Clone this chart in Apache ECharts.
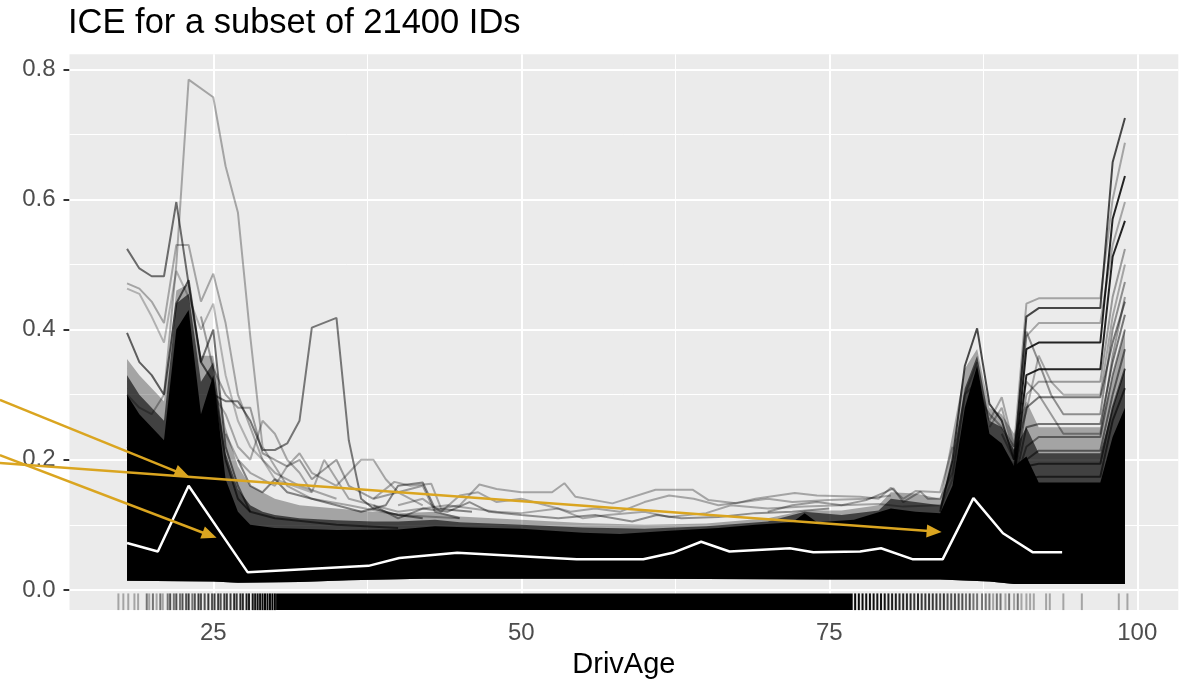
<!DOCTYPE html>
<html><head><meta charset="utf-8">
<script src="https://cdn.jsdelivr.net/npm/echarts/dist/echarts.min.js"></script>
<style>html,body{margin:0;padding:0;background:#fff}#c{width:1182px;height:684px}</style>
</head><body><div id="c"></div>
<script>
// ---------- data ----------
const xTicks = [25, 50, 75, 100];
const xMinor = [37.5, 62.5, 87.5];
const yTicks = [0, 0.2, 0.4, 0.6, 0.8];
const yMinor = [0.1, 0.3, 0.5, 0.7];
const xRange = [13.33, 103.33];
const yRange = [-0.031, 0.823];

// dense band of the ICE curves (upper/lower envelopes)
const bandCoreUpper = [[18,0.30],[19,0.27],[20,0.25],[21,0.23],[22,0.40],[23,0.43],[24,0.27],[25,0.33],[26,0.17],[27,0.12],[28,0.10],[30,0.095],[35,0.092],[40,0.093],[43,0.098],[46,0.096],[50,0.094],[55,0.088],[58,0.086],[62,0.091],[66,0.095],[69,0.10],[72,0.104],[73,0.118],[74,0.104],[77,0.108],[80,0.125],[82,0.12],[84,0.118],[85,0.16],[86,0.28],[87,0.345],[88,0.24],[89,0.225],[90,0.19],[91,0.205],[92,0.165],[97,0.165],[98,0.235],[99,0.28]];
const bandDenseUpper = [[18,0.33],[19,0.30],[20,0.28],[21,0.26],[22,0.44],[23,0.455],[24,0.32],[25,0.35],[26,0.21],[27,0.155],[28,0.13],[29,0.12],[30,0.115],[32,0.11],[35,0.107],[38,0.105],[40,0.105],[43,0.108],[45,0.104],[50,0.10],[55,0.096],[60,0.094],[65,0.098],[70,0.105],[73,0.12],[76,0.115],[79,0.122],[80,0.14],[82,0.135],[84,0.13],[85,0.20],[86,0.31],[87,0.36],[88,0.26],[89,0.25],[90,0.215],[91,0.25],[92,0.21],[97,0.21],[98,0.28],[99,0.34]];
const bandFuzzUpper = [[18,0.355],[19,0.33],[20,0.31],[21,0.29],[22,0.46],[23,0.47],[24,0.36],[25,0.36],[26,0.25],[27,0.19],[28,0.16],[29,0.15],[30,0.14],[32,0.13],[35,0.125],[38,0.12],[40,0.118],[43,0.12],[45,0.113],[50,0.108],[55,0.103],[60,0.10],[65,0.102],[70,0.11],[73,0.122],[76,0.122],[79,0.13],[80,0.15],[82,0.148],[84,0.14],[85,0.24],[86,0.34],[87,0.37],[88,0.28],[89,0.27],[90,0.24],[91,0.29],[92,0.25],[97,0.25],[98,0.33],[99,0.40]];
const bandLower = [[18,0.014],[25,0.013],[27,0.011],[32,0.012],[36,0.015],[42,0.017],[60,0.017],[75,0.016],[84,0.016],[88,0.013],[90,0.009],[99,0.009]];

// individual ICE curves standing out of the band
const ice01 = [[18,0.30],[19,0.28],[20,0.27],[21,0.30],[22,0.50],[23,0.784],[25,0.757],[26,0.651],[27,0.58],[28,0.39],[29,0.22],[30,0.19],[31,0.16],[33,0.14],[36,0.13],[40,0.115],[45,0.11]];
const ice02 = [[18,0.524],[19,0.494],[20,0.482],[21,0.482],[22,0.596],[23,0.47],[24,0.35],[25,0.40],[26,0.22],[27,0.16],[28,0.12],[30,0.11],[35,0.10],[40,0.095]];
const ice03 = [[18,0.471],[19,0.463],[20,0.443],[21,0.41],[22,0.53],[23,0.53],[24,0.443],[25,0.486],[26,0.41],[27,0.30],[28,0.25],[29,0.20],[30,0.18],[32,0.16],[35,0.14]];
const ice04 = [[18,0.463],[19,0.455],[20,0.42],[21,0.38],[22,0.49],[23,0.45],[24,0.40],[25,0.44],[26,0.33],[27,0.26],[28,0.22],[29,0.20],[30,0.17],[33,0.15]];
const ice05 = [[18,0.395],[19,0.35],[20,0.33],[21,0.30],[22,0.44],[23,0.476],[24,0.35],[25,0.32],[26,0.20],[27,0.14],[28,0.12]];
const ice06 = [[18,0.22],[20,0.20],[21,0.19],[22,0.30],[23,0.32],[24,0.26],[25,0.30],[26,0.29],[27,0.29],[28,0.26],[29,0.215],[30,0.215],[31,0.225],[32,0.26],[33,0.403],[35,0.418],[36,0.23],[37,0.14],[38,0.125],[40,0.115],[42,0.11]];
const ice07 = [[24,0.42],[25,0.34],[26,0.30],[27,0.28],[28,0.28],[29,0.21],[30,0.20],[31,0.19],[32,0.20],[33,0.17],[35,0.20],[36,0.16],[38,0.14],[40,0.15],[42,0.16],[43,0.12],[45,0.11]];
const ice08 = [[25,0.30],[26,0.27],[27,0.22],[28,0.20],[29,0.26],[30,0.24],[31,0.20],[32,0.18],[33,0.15],[34,0.20],[35,0.17],[36,0.14],[38,0.13],[40,0.12]];
const ice09 = [[26,0.24],[27,0.20],[28,0.18],[30,0.16],[31,0.19],[32,0.21],[33,0.18],[35,0.16],[37,0.20],[38,0.20],[39,0.17],[40,0.15],[42,0.13]];
const ice10 = [[27,0.20],[28,0.16],[29,0.15],[30,0.17],[31,0.15],[33,0.14],[35,0.13],[37,0.12],[39,0.13],[40,0.16],[42,0.165],[43,0.125],[46,0.12]];
const ice11 = [[38,0.14],[39.7,0.166],[41,0.16],[42.7,0.163],[43.5,0.125],[45,0.13],[46.6,0.162],[48,0.155],[50,0.15],[52.5,0.15],[53.5,0.164],[54.4,0.143],[57.4,0.133],[60.9,0.154],[63.9,0.154],[65.2,0.138],[67.4,0.133],[69,0.14],[72.2,0.149],[74,0.145],[77.5,0.143],[79,0.14],[80,0.157],[81,0.14],[82,0.152],[84,0.15],[85,0.22]];
const ice12 = [[40,0.13],[42,0.14],[43.5,0.12],[45,0.145],[46.5,0.15],[48,0.135],[50,0.14],[52,0.13],[54,0.12],[56,0.125],[58,0.12],[60,0.135],[62,0.145],[64,0.14],[66,0.13],[68,0.135],[70,0.14],[72,0.135],[75,0.138],[78,0.14],[80,0.145]];
const ice13 = [[40,0.12],[42,0.125],[44,0.13],[46,0.125],[48,0.12],[50,0.118],[53,0.125],[55,0.11],[57,0.115],[60,0.12],[62,0.112],[65,0.118],[67,0.13],[70,0.125],[73,0.128],[76,0.13],[79,0.132],[81,0.128],[84,0.13]];
const ice14 = [[38,0.13],[40,0.11],[42,0.125],[44,0.12],[45.8,0.135],[47.4,0.12],[50,0.115],[53,0.11],[56,0.115],[59,0.105],[61,0.115],[63,0.11],[66,0.112],[69,0.118],[72,0.12],[75,0.125]];
const ice15 = [[70,0.12],[72,0.13],[74,0.135],[76,0.13],[78,0.138],[79.5,0.15],[80.2,0.156],[81,0.135],[82.4,0.151],[83,0.14],[84,0.14],[85,0.18],[86,0.30],[87,0.35]];
const ice16 = [[84,0.12],[85,0.20],[86,0.344],[87,0.402],[88,0.286],[89,0.26],[90,0.20],[91,0.42],[92,0.433],[97,0.433],[98,0.657],[99,0.725]];
const ice17 = [[84,0.125],[85,0.17],[86,0.30],[87,0.32],[88,0.26],[89,0.296],[90,0.22],[91,0.44],[92,0.448],[97,0.448],[98,0.60],[99,0.687]];
const ice18 = [[88,0.20],[89,0.20],[90,0.18],[91,0.37],[92,0.38],[97,0.38],[98,0.57],[99,0.636]];
const ice19 = [[88,0.21],[89,0.22],[90,0.19],[91,0.39],[92,0.41],[97,0.41],[98,0.53],[99,0.596]];
const ice20 = [[88,0.19],[89,0.19],[90,0.17],[91,0.33],[92,0.339],[97,0.339],[98,0.512],[99,0.567]];
const ice21 = [[89,0.22],[90,0.18],[91,0.30],[92,0.32],[97,0.32],[98,0.45],[99,0.524]];
const ice22 = [[89,0.24],[90,0.20],[91,0.397],[92,0.35],[93,0.30],[94,0.27],[97,0.27],[98,0.40],[99,0.473]];
const ice23 = [[89,0.20],[90,0.17],[91,0.28],[92,0.296],[97,0.296],[98,0.38],[99,0.443]];
const ice24 = [[89,0.18],[90,0.16],[91,0.25],[92,0.255],[97,0.255],[98,0.35],[99,0.423]];
const ice25 = [[89,0.18],[90,0.16],[91,0.22],[92,0.235],[97,0.235],[98,0.33],[99,0.40]];
const ice26 = [[90,0.16],[91,0.20],[92,0.214],[97,0.214],[98,0.30],[99,0.37]];
const ice27 = [[90,0.15],[91,0.19],[92,0.194],[97,0.194],[98,0.28],[99,0.34]];
const ice28 = [[90,0.15],[91,0.17],[92,0.174],[97,0.174],[98,0.26],[99,0.31]];
const ice29 = [[88,0.25],[89,0.28],[90,0.21],[91,0.275],[92,0.36],[93,0.32],[94,0.30],[95,0.30],[97,0.30],[98,0.42],[99,0.50]];
const ice30 = [[86,0.25],[87,0.30],[88,0.27],[89,0.25],[90,0.22],[91,0.32],[92,0.30],[93,0.27],[94,0.24],[97,0.24],[98,0.36],[99,0.45]];

// average curve (white)
const pdCurve = [[18,0.072],[20.5,0.059],[23,0.160],[27.8,0.027],[37.6,0.037],[40.1,0.049],[44.8,0.057],[52.6,0.049],[54.5,0.047],[59.9,0.047],[62.3,0.057],[64.6,0.074],[66.9,0.059],[71.8,0.064],[73.7,0.058],[77.5,0.059],[79.2,0.064],[81.8,0.047],[84.2,0.047],[86.7,0.141],[89.1,0.087],[91.5,0.058],[93.9,0.058]];

// rug: [age, number of overlapping marks]
const rugTicks = [[17.3,1],[17.7,1],[18.1,1],[18.6,1],[18.9,1],[19.6,2],[19.8,1],[20.1,2],[20.4,1],[20.7,2],[20.9,1],[21.3,2],[21.5,3],[21.8,2],[22.0,3],[22.3,2],[22.5,3],[22.8,3],[23.0,4],[23.3,2],[23.5,3],[23.8,4],[24.0,3],[24.3,3],[24.6,4],[24.9,3],[25.1,4],[25.4,4],[25.6,3],[25.9,4],[26.1,4],[26.4,4],[26.7,5],[26.9,4],[27.2,5],[27.4,5],[27.7,6],[27.9,6],[28.2,7],[28.4,7],[28.6,8],[28.8,8],[29.0,9],[29.2,10],[29.4,10],[29.6,12],[29.8,14],[30.0,16],
 [77.1,10],[77.4,9],[77.7,9],[78.0,8],[78.3,8],[78.6,8],[78.9,7],[79.2,7],[79.5,7],[79.8,6],[80.1,6],[80.4,6],[80.7,5],[81.0,5],[81.3,5],[81.6,5],[81.9,4],[82.2,5],[82.5,4],[82.8,4],[83.1,4],[83.4,4],[83.7,4],[84.0,3],[84.3,4],[84.6,3],[84.9,3],[85.2,3],[85.5,3],[85.8,3],[86.1,2],[86.4,3],[86.7,2],[87.0,2],[87.4,2],[87.7,2],[88.0,2],[88.3,1],[88.6,2],[88.9,2],[89.3,1],[89.6,2],[90.0,1],[90.3,2],[90.6,1],[91.0,1],[91.3,1],[91.6,1],[92.6,1],[92.9,1],[94.0,1],[95.5,1],[98.5,1],[99.2,1]];
const rugSolid = [30.1, 76.9];

// annotation arrows: [start age, start value, tip age, tip value]
const arrowA = [7.68, 0.292, 23.05, 0.174];
const arrowB = [7.68, 0.195, 84.12, 0.089];
const arrowC = [7.68, 0.207, 25.27, 0.080];

// ---------- styles ----------
const iceLines = [ice01,ice02,ice03,ice04,ice05,ice06,ice07,ice08,ice09,ice10,ice11,ice12,ice13,ice14,ice15,ice16,ice17,ice18,ice19,ice20,ice21,ice22,ice23,ice24,ice25,ice26,ice27,ice28,ice29,ice30];
const iceAlpha = [0.3,0.55,0.3,0.25,0.6,0.5,0.35,0.3,0.3,0.45,0.3,0.3,0.3,0.4,0.35,0.7,0.3,0.85,0.3,0.85,0.35,0.4,0.5,0.5,0.45,0.5,0.6,0.6,0.3,0.35];
const FONT = 'Liberation Sans, Arial, sans-serif';
const GOLD = '#DAA520';

const chart = echarts.init(document.getElementById('c'), null, {renderer: 'canvas'});

function polygonSeries(upper, lower, fill, z) {
  return {
    type: 'custom', z: z, silent: true, data: upper,
    renderItem: function (params, api) {
      if (params.dataIndex !== 0) return null;
      const pts = upper.map(p => api.coord(p)).concat(lower.slice().reverse().map(p => api.coord(p)));
      return {type: 'polygon', shape: {points: pts}, style: {fill: fill}};
    }
  };
}

const gridMarks = []
  .concat(yTicks.map(v => ({yAxis: v, lineStyle: {width: 2}})))
  .concat(yMinor.map(v => ({yAxis: v, lineStyle: {width: 1}})))
  .concat(xTicks.map(v => ({xAxis: v, lineStyle: {width: 2}})))
  .concat(xMinor.map(v => ({xAxis: v, lineStyle: {width: 1}})));

const series = [];
series.push({
  type: 'line', data: [], z: 1, silent: true,
  markLine: {z: 1, silent: true, symbol: ['none', 'none'], label: {show: false}, animation: false,
    lineStyle: {color: '#FFFFFF', type: 'solid'}, data: gridMarks}
});
series.push(polygonSeries(bandFuzzUpper, bandLower, 'rgba(0,0,0,0.3)', 2));
series.push(polygonSeries(bandDenseUpper, bandLower, 'rgba(0,0,0,0.6)', 2));
iceLines.forEach((ln, i) => {
  series.push({type: 'line', data: ln, z: 3, symbol: 'none', silent: true,
    lineStyle: {color: 'rgba(0,0,0,' + iceAlpha[i] + ')', width: 2}});
});
series.push(polygonSeries(bandCoreUpper, bandLower, '#000000', 4));
series.push({type: 'line', data: pdCurve, z: 5, symbol: 'none', silent: true,
  lineStyle: {color: '#FFFFFF', width: 2.5}});
// rug
series.push({
  type: 'custom', z: 6, silent: true, data: rugTicks,
  renderItem: function (params, api) {
    const age = api.value(0), n = api.value(1);
    const yTop = yRange[0] + 0.03 * (yRange[1] - yRange[0]);
    const p0 = api.coord([age, yRange[0]]);
    const p1 = api.coord([age, yTop]);
    return {type: 'line', shape: {x1: p0[0], y1: p0[1], x2: p1[0], y2: p1[1]},
      style: {stroke: '#000', lineWidth: 2, opacity: 1 - Math.pow(0.7, n)}};
  }
});
series.push({
  type: 'custom', z: 6, silent: true, data: [[rugSolid[0], 0]],
  renderItem: function (params, api) {
    const yTop = yRange[0] + 0.03 * (yRange[1] - yRange[0]);
    const a = api.coord([rugSolid[0], yTop]);
    const b = api.coord([rugSolid[1], yRange[0]]);
    return {type: 'rect', shape: {x: a[0], y: a[1], width: b[0] - a[0], height: b[1] - a[1]}, style: {fill: '#000'}};
  }
});

chart.setOption({
  animation: false,
  backgroundColor: '#FFFFFF',
  title: {text: 'ICE for a subset of 21400 IDs', left: 68, top: 6, padding: 0,
    textStyle: {fontSize: 34.5, fontWeight: 'normal', color: '#000', fontFamily: FONT}},
  grid: {left: 69.5, right: 3.7, top: 54.3, bottom: 69.7, show: true,
    backgroundColor: '#EBEBEB', borderWidth: 0, containLabel: false},
  xAxis: {type: 'value', min: xRange[0], max: xRange[1],
    axisLine: {show: false},
    axisTick: {show: true, length: 6, lineStyle: {color: '#333333', width: 2}, customValues: xTicks},
    axisLabel: {customValues: xTicks, fontSize: 24, color: '#4D4D4D', margin: 11, fontFamily: FONT},
    splitLine: {show: false},
    name: 'DrivAge', nameLocation: 'middle', nameGap: 39,
    nameTextStyle: {fontSize: 29, color: '#000', fontFamily: FONT}},
  yAxis: {type: 'value', min: yRange[0], max: yRange[1],
    axisLine: {show: false},
    axisTick: {show: true, length: 6, lineStyle: {color: '#333333', width: 2}, customValues: yTicks},
    axisLabel: {customValues: yTicks, fontSize: 24, color: '#4D4D4D', margin: 14, fontFamily: FONT,
      formatter: v => Number(v).toFixed(1)},
    splitLine: {show: false}},
  series: series
});

// annotation arrows placed through the chart's own scales
function arrowGraphic(a) {
  const s = chart.convertToPixel({gridIndex: 0}, [a[0], a[1]]);
  const t = chart.convertToPixel({gridIndex: 0}, [a[2], a[3]]);
  const dx = t[0] - s[0], dy = t[1] - s[1], L = Math.sqrt(dx * dx + dy * dy);
  const ux = dx / L, uy = dy / L, hl = 15, hw = 6.5;
  const bx = t[0] - ux * hl, by = t[1] - uy * hl;
  return [
    {type: 'line', z: 100, shape: {x1: s[0], y1: s[1], x2: bx + ux * 2, y2: by + uy * 2},
      style: {stroke: GOLD, lineWidth: 2.5}},
    {type: 'polygon', z: 100, shape: {points: [[t[0], t[1]], [bx - uy * hw, by + ux * hw], [bx + uy * hw, by - ux * hw]]},
      style: {fill: GOLD}}
  ];
}
chart.setOption({graphic: [].concat(arrowGraphic(arrowA), arrowGraphic(arrowB), arrowGraphic(arrowC))});
</script></body></html>
